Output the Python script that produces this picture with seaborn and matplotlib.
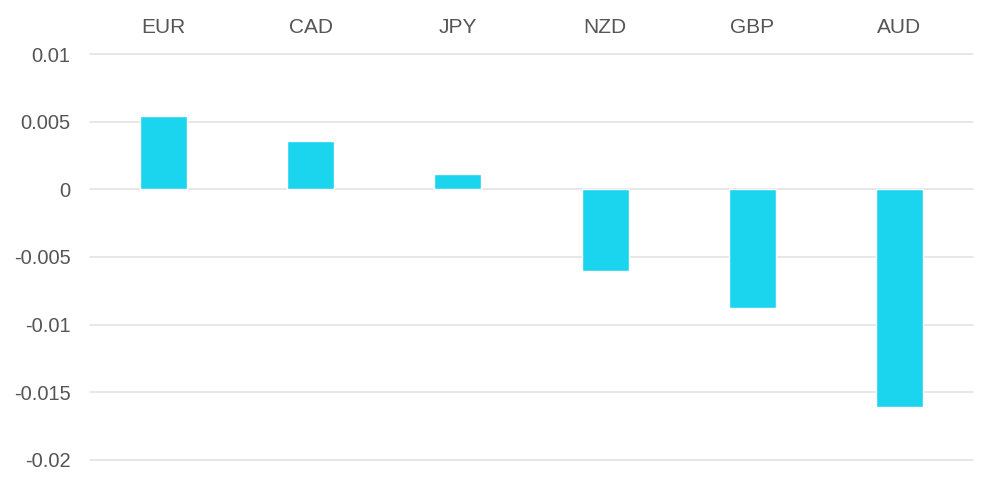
import numpy as np
import pandas as pd
import matplotlib
matplotlib.use('Agg')
import matplotlib.pyplot as plt
import seaborn as sns

currencies = ['EUR', 'CAD', 'JPY', 'NZD', 'GBP', 'AUD']
values = [0.0054, 0.0036, 0.0011, -0.006, -0.0088, -0.0161]
y_ticks = [0.01, 0.005, 0, -0.005, -0.01, -0.015, -0.02]
y_tick_labels = ['0.01', '0.005', '0', '-0.005', '-0.01', '-0.015', '-0.02']

df = pd.DataFrame({'currency': currencies, 'value': values})

sns.set_style('white')
plt.rcParams['font.family'] = ['Liberation Sans', 'DejaVu Sans']

fig = plt.figure(figsize=(10, 4.88), dpi=100)
ax = fig.add_axes([0.09, 1 - 460 / 488, 0.883, (460 - 54) / 488])

sns.barplot(data=df, x='currency', y='value', color='#1BD4EE',
            saturation=1, width=0.32, ax=ax, zorder=3)

ax.set_ylim(-0.02, 0.01)
ax.set_xlim(-0.5, 5.5)
ax.set_yticks(y_ticks)
ax.set_yticklabels(y_tick_labels)
ax.yaxis.grid(True, color='#e3e3e3', linewidth=1.2, zorder=0)
ax.set_axisbelow(True)
for gl in ax.get_ygridlines():
    gl.set_clip_on(False)

ax.xaxis.tick_top()
ax.tick_params(axis='x', length=0, pad=12, labelsize=15, labelcolor='#555555')
ax.tick_params(axis='y', length=0, pad=14, labelsize=14.5, labelcolor='#555555')
ax.set_xlabel('')
ax.set_ylabel('')
sns.despine(ax=ax, left=True, bottom=True, top=True, right=True)

fig.savefig('out.png', dpi=100, facecolor='white')
